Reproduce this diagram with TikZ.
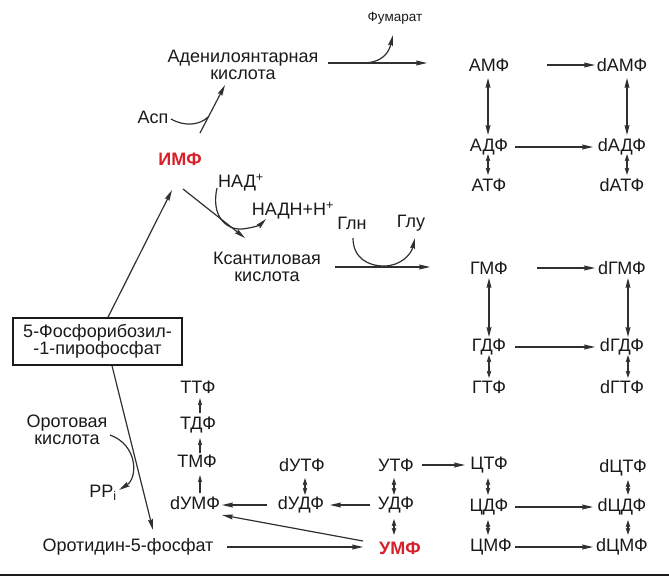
\documentclass[tikz,border=0pt]{standalone}
\usepackage{fontspec}
\setmainfont{Liberation Sans}
\usetikzlibrary{arrows.meta,calc}
\definecolor{ink}{HTML}{1A1A1A}
\definecolor{lin}{HTML}{303030}
\definecolor{rd}{HTML}{D8202A}
\begin{document}
\begin{tikzpicture}[x=1pt,y=-1pt,
  lbl/.style={inner sep=0pt, text=ink, font=\fontsize{18}{17}\selectfont, align=center},
  redlbl/.style={inner sep=0pt, text=rd, font=\bfseries\fontsize{18}{17}\selectfont},
  ln/.style={draw=lin, line width=1.2pt},
  ar/.style={ln, -{Stealth[length=11pt,width=5pt,inset=1.5pt]}},
  arS/.style={ln, -{Stealth[length=7pt,width=4pt,inset=1pt]}},
  arD/.style={ln, {Stealth[length=7pt,width=4.5pt,inset=1pt]}-{Stealth[length=7pt,width=4.5pt,inset=1pt]}},
  arDL/.style={ln, {Stealth[length=10pt,width=5pt,inset=1.5pt]}-{Stealth[length=10pt,width=5pt,inset=1.5pt]}}
]
\useasboundingbox (0,0) rectangle (669,576);
\fill[white] (0,0) rectangle (669,576);

% ---- purine part ----
\node[lbl, font=\fontsize{13.5}{15}\selectfont] (fum) at (395,18) {Фумарат};
\node[lbl] (aden) at (243,65) {Аденилоянтарная\\кислота};
\node[lbl] (asp) at (153,117) {Асп};
\node[redlbl] (imp) at (180,159) {ИМФ};
\node[lbl] (nad) at (241,183) {НАД\textsuperscript{+}};
\node[lbl] (nadh) at (293,211) {НАДН+Н\textsuperscript{+}};
\node[lbl] (gln) at (352,223) {Глн};
\node[lbl] (glu) at (411,223) {Глу};
\node[lbl] (xan) at (267,267) {Ксантиловая\\кислота};

\node[lbl] (amf) at (489,65) {АМФ};
\node[lbl] (damf) at (622,65) {dАМФ};
\node[lbl] (adf) at (489,147) {АДФ};
\node[lbl] (dadf) at (622,147) {dАДФ};
\node[lbl] (atf) at (489,185) {АТФ};
\node[lbl] (datf) at (622,185) {dАТФ};

\node[lbl] (gmf) at (489,268) {ГМФ};
\node[lbl] (dgmf) at (622,268) {dГМФ};
\node[lbl] (gdf) at (489,347) {ГДФ};
\node[lbl] (dgdf) at (622,347) {dГДФ};
\node[lbl] (gtf) at (489,387) {ГТФ};
\node[lbl] (dgtf) at (622,387) {dГТФ};

% ---- left / pyrimidine part ----
\node[lbl, draw=ink, line width=1.5pt, minimum width=169pt, minimum height=47pt] (prpp) at (97.5,341.5) {5-Фосфорибозил-\\-1-пирофосфат};
\node[lbl] (orot) at (67,430) {Оротовая\\кислота};
\node[lbl] (ppi) at (103,493) {PP\textsubscript{i}};
\node[lbl] (orotidin) at (128,547) {Оротидин-5-фосфат};

\node[lbl] (ttf) at (198,387) {ТТФ};
\node[lbl] (tdf) at (198,425) {ТДФ};
\node[lbl] (tmf) at (197,461) {ТМФ};
\node[lbl] (dump) at (195,503) {dУМФ};

\node[lbl] (dutf) at (302,465) {dУТФ};
\node[lbl] (dudf) at (301,505) {dУДФ};
\node[lbl] (utf) at (396,465) {УТФ};
\node[lbl] (udf) at (396,505) {УДФ};
\node[redlbl] (ump) at (400,548) {УМФ};

\node[lbl] (ctf) at (489,465) {ЦТФ};
\node[lbl] (cdf) at (489,507) {ЦДФ};
\node[lbl] (cmf) at (491,547) {ЦМФ};
\node[lbl] (dctf) at (623,468) {dЦТФ};
\node[lbl] (dcdf) at (622,507) {dЦДФ};
\node[lbl] (dcmf) at (622,547) {dЦМФ};

% ---- connectors: purine ----
\coordinate (j1) at (208,117);
\coordinate (j2) at (362,63);
\draw[ar] ($(imp)+(20,-26)$) -- ($(aden)+(-18,20)$);
\draw[ln] ($(asp)+(18,2)$) .. controls (185,127) and (200,125) .. (j1);
\draw[ar] ($(aden)+(85,-2)$) -- ($(amf)+(-62,-2)$);
\draw[ar] (j2) .. controls (383,63) and (389,52) .. ($(fum)+(-2,17)$);

\draw[ar] ($(imp)+(3,30)$) -- ($(xan)+(-22,-29)$);
\draw[ar] ($(nad)+(-24,5)$) .. controls (211,215) and (225,230) .. (242,229)
  .. controls (252,228) and (260,225) .. ($(nadh)+(-27,8)$);
\draw[ar] ($(xan)+(68,0)$) -- ($(gmf)+(-59,-1)$);
\draw[ar] ($(gln)+(1,15)$) .. controls (353,258) and (368,266) .. (384,266)
  .. controls (400,266) and (411,255) .. ($(glu)+(4,15)$);

\draw[ar] ($(amf)+(58,0)$) -- ($(damf)+(-27,0)$);
\draw[ar] ($(adf)+(26,0)$) -- ($(dadf)+(-29,0)$);
\draw[arDL] ($(amf)+(-1,13)$) -- ($(adf)+(-1,-12)$);
\draw[arD] ($(adf)+(-1,7)$) -- ($(atf)+(-1,-10)$);
\draw[arDL] ($(damf)+(5,13)$) -- ($(dadf)+(5,-12)$);
\draw[arD] ($(dadf)+(5,7)$) -- ($(datf)+(5,-10)$);

\draw[ar] ($(gmf)+(48,0)$) -- ($(dgmf)+(-27,0)$);
\draw[ar] ($(gdf)+(26,0)$) -- ($(dgdf)+(-27,0)$);
\draw[arDL] ($(gmf)+(0,10)$) -- ($(gdf)+(0,-10)$);
\draw[arD] ($(gdf)+(0,8)$) -- ($(gtf)+(0,-9)$);
\draw[arDL] ($(dgmf)+(6,10)$) -- ($(dgdf)+(6,-10)$);
\draw[arD] ($(dgdf)+(6,8)$) -- ($(dgtf)+(6,-9)$);

% ---- connectors: left ----
\draw[ar] ($(prpp.north)+(10.5,0)$) -- ($(imp)+(-8,31)$);
\draw[ar] ($(prpp.south)+(14.5,0)$) -- ($(orotidin)+(25,-17)$);
\draw[ar] ($(orot)+(43,5)$) .. controls (138,445) and (138,478) .. ($(ppi)+(16,-3)$);
\draw[ar] ($(orotidin)+(99,0)$) -- ($(ump)+(-37,-1)$);

% ---- connectors: pyrimidine ----
\draw[arS] ($(dump)+(5,-10)$) -- ($(tmf)+(3,14)$);
\draw[arS] ($(tmf)+(3,-8)$) -- ($(tdf)+(2,13)$);
\draw[arS] ($(tdf)+(2,-12)$) -- ($(ttf)+(2,11)$);

\draw[ar] ($(dudf)+(-34,0)$) -- ($(dump)+(27,2)$);
\draw[ar] ($(ump)+(-37,-7)$) -- ($(dump)+(27,12)$);
\draw[ar] ($(udf)+(-26,0)$) -- ($(dudf)+(29,0)$);
\draw[ar] ($(utf)+(26,0)$) -- ($(ctf)+(-24,0)$);
\draw[ar] ($(cdf)+(26,0)$) -- ($(dcdf)+(-29,0)$);
\draw[ar] ($(cmf)+(24,0)$) -- ($(dcmf)+(-29,0)$);

\draw[arD] ($(dutf)+(3,13)$) -- ($(dudf)+(4,-10)$);
\draw[arD] ($(utf)+(-2,13)$) -- ($(udf)+(-2,-10)$);
\draw[arD] ($(udf)+(-2,14)$) -- ($(ump)+(-6,-13)$);
\draw[arD] ($(ctf)+(-1,13)$) -- ($(cdf)+(-1,-12)$);
\draw[arD] ($(cdf)+(-1,13)$) -- ($(cmf)+(-3,-12)$);
\draw[arD] ($(dctf)+(5,12)$) -- ($(dcdf)+(6,-12)$);
\draw[arD] ($(dcdf)+(6,13)$) -- ($(dcmf)+(6,-12)$);

\fill[ink] (0,573.5) rectangle (669,576);
\end{tikzpicture}
\end{document}
